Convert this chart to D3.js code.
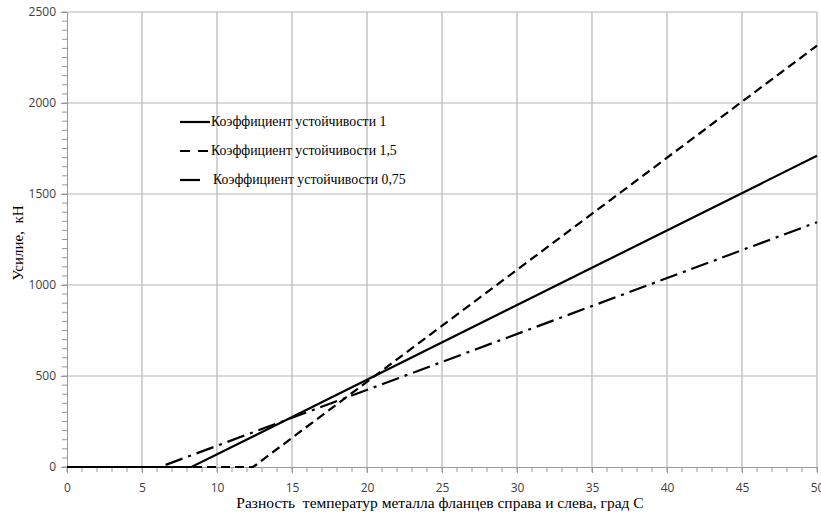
<!DOCTYPE html>
<html>
<head>
<meta charset="utf-8">
<script src="https://cdn.jsdelivr.net/npm/d3@7"></script>
<style>
  body { margin: 0; background: #fff; }
  .tick text { font-family: "Open Sans", "DejaVu Sans", sans-serif; font-size: 12px; fill: #404040; }
  .title { white-space: pre; }
</style>
</head>
<body>
<div id="chart"></div>
<script>
// data
const xTicks = [0, 5, 10, 15, 20, 25, 30, 35, 40, 45, 50];
const yTicks = [0, 500, 1000, 1500, 2000, 2500];
const seriesNames = ["Коэффициент устойчивости 1", "Коэффициент устойчивости 1,5", "Коэффициент устойчивости 0,75"];
const tempK1 = [0, 8.3, 50];
const forceK1 = [0, 0, 1710];
const tempK15 = [0, 12.4, 50];
const forceK15 = [0, 0, 2315];
const tempK075 = [0, 6.2, 50];
const forceK075 = [0, 0, 1345];

const W = 821, H = 531;
const margin = { top: 12, right: 4, bottom: 64, left: 67 };
const width = W - margin.left - margin.right;
const height = H - margin.top - margin.bottom;

const svg = d3.select('#chart').append('svg')
  .attr('width', W)
  .attr('height', H);

const x = d3.scaleLinear().domain([0, 50]).range([0, width]);
const y = d3.scaleLinear().domain([0, 2500]).range([height, 0]);

const chart = svg.append('g')
  .attr('transform', `translate(${margin.left},${margin.top})`);

// grid
chart.append('g').selectAll('line.gx')
  .data(xTicks.slice(1))
  .enter().append('line')
  .attr('x1', d => x(d)).attr('x2', d => x(d))
  .attr('y1', 0).attr('y2', height)
  .attr('stroke', '#b5b5b5').attr('stroke-width', 1.2);
chart.append('g').selectAll('line.gy')
  .data(yTicks.slice(1))
  .enter().append('line')
  .attr('x1', 0).attr('x2', width)
  .attr('y1', d => y(d)).attr('y2', d => y(d))
  .attr('stroke', '#b5b5b5').attr('stroke-width', 1.2);

// minor ticks
chart.append('g').selectAll('line')
  .data(d3.range(0, 2501, 50))
  .enter().append('line')
  .attr('x1', -5).attr('x2', 0)
  .attr('y1', d => y(d)).attr('y2', d => y(d))
  .attr('stroke', '#999');
chart.append('g').selectAll('line')
  .data(d3.range(0, 51, 1))
  .enter().append('line')
  .attr('x1', d => x(d)).attr('x2', d => x(d))
  .attr('y1', height).attr('y2', height + 5)
  .attr('stroke', '#999');

// axes
const xAxis = chart.append('g')
  .attr('transform', `translate(0,${height})`)
  .call(d3.axisBottom(x).tickValues(xTicks).tickFormat(d3.format('d')).tickSize(6).tickPadding(10));
const yAxis = chart.append('g')
  .call(d3.axisLeft(y).tickValues(yTicks).tickFormat(d3.format('d')).tickSize(6).tickPadding(5));
[xAxis, yAxis].forEach(a => {
  a.select('.domain').attr('stroke', '#999');
  a.selectAll('.tick line').attr('stroke', '#999');
});

// lines
const line = d3.line().x(d => x(d[0])).y(d => y(d[1]));
const series = [
  { t: tempK1, f: forceK1, dash: null },
  { t: tempK15, f: forceK15, dash: '9,5' },
  { t: tempK075, f: forceK075, dash: '18,6,3,6' }
];
series.forEach(s => {
  chart.append('path')
    .datum(s.t.map((v, i) => [v, s.f[i]]))
    .attr('d', line)
    .attr('fill', 'none')
    .attr('stroke', '#000')
    .attr('stroke-width', 2.2)
    .attr('stroke-dasharray', s.dash);
});

// legend
const legendDash = [null, '10,8', null];
const legendLen = [30, 30, 20];
const legend = svg.append('g').attr('transform', 'translate(180,122)');
seriesNames.forEach((name, i) => {
  const g = legend.append('g').attr('transform', `translate(0,${i * 29})`);
  g.append('line')
    .attr('x1', 0).attr('x2', legendLen[i])
    .attr('stroke', '#000').attr('stroke-width', 2.2)
    .attr('stroke-dasharray', legendDash[i]);
  g.append('text')
    .attr('x', i === 2 ? 33 : 31).attr('y', 4)
    .style('font-family', '"Liberation Serif", "DejaVu Serif", serif')
    .style('font-size', '13.8px')
    .text(name);
});

// axis titles
svg.append('text')
  .attr('class', 'title')
  .attr('transform', 'translate(23,243) rotate(-90)')
  .style('text-anchor', 'middle')
  .style('font-family', '"Liberation Serif", serif')
  .style('font-size', '15px')
  .text('Усилие,  кН');

svg.append('text')
  .attr('class', 'title')
  .attr('x', 440).attr('y', 508)
  .style('text-anchor', 'middle')
  .style('font-family', '"Liberation Serif", serif')
  .style('font-size', '15.5px')
  .text('Разность  температур металла фланцев справа и слева, град С');
</script>
</body>
</html>
